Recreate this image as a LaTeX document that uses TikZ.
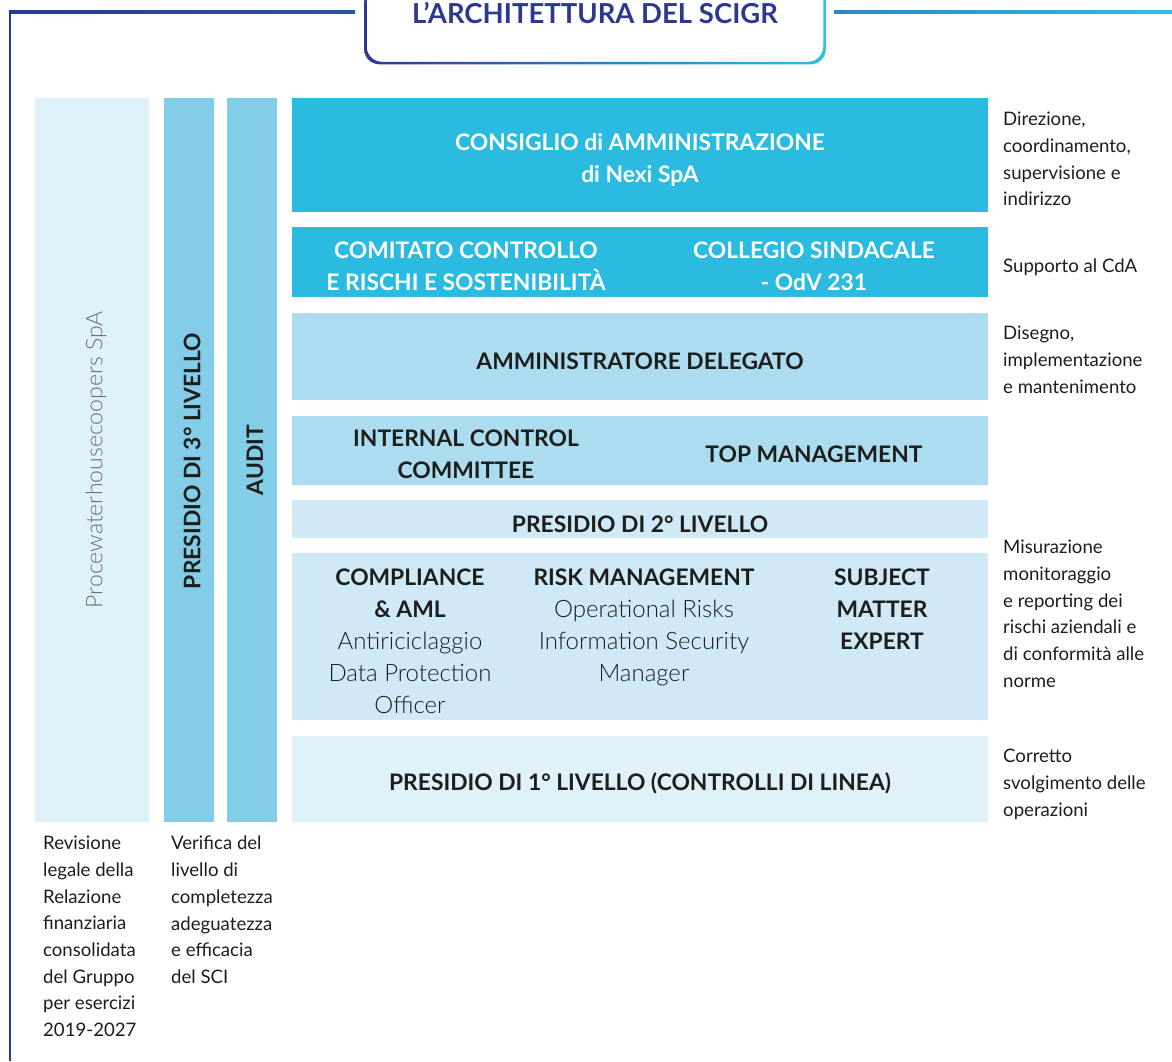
\documentclass[tikz,border=0pt]{standalone}
\usepackage{fontspec}
\setmainfont{Lato}
\newfontfamily\lightfont{Lato Light}
\definecolor{navyline}{HTML}{2B3990}
\definecolor{midline}{HTML}{2F86C6}
\definecolor{cyanline}{HTML}{2BC0E8}
\definecolor{cdacyan}{HTML}{2BBBE0}
\definecolor{adblue}{HTML}{ABDCF0}
\definecolor{secblue}{HTML}{CFEAF6}
\definecolor{paleblue}{HTML}{DFF1F9}
\definecolor{colblue}{HTML}{83CDE8}
\definecolor{inkdark}{HTML}{1D1D1B}
\definecolor{inkgray}{HTML}{6F7072}
\tikzset{
  band/.style={fill=#1, inner sep=0pt, outer sep=0pt, anchor=north west},
  boldtxt/.style={text=inkdark, align=center, inner sep=0pt, font=\fontsize{22.8}{32}\selectfont\bfseries},
  whitetxt/.style={boldtxt, text=white},
  mixtxt/.style={text=inkdark, align=center, inner sep=0pt, anchor=north, font=\fontsize{22.8}{32}\selectfont},
  notetxt/.style={text=inkdark, align=left, inner sep=0pt, anchor=north west, font=\fontsize{18.6}{26.7}\selectfont},
}
\newcommand{\lt}[1]{{\lightfont\fontsize{24}{32}\selectfont #1}}
\begin{document}
\begin{tikzpicture}[x=1pt,y=-1pt]
\useasboundingbox (0,0) rectangle (1172,1061);
% frame and title
\fill[navyline] (8.75,10.75) rectangle (11.25,1061);
\shade[left color=navyline, right color=navyline!80!cyanline] (8.75,10.75) rectangle (355,13.25);
\shade[left color=midline, right color=cyanline] (834,10.75) rectangle (1172,13.25);
\shade[left color=navyline, right color=cyanline, even odd rule, rounded corners=15pt] (364.25,-40) rectangle (825.75,64.25) (366.75,-40) rectangle (823.25,61.75);
\node[text=navyline, font=\fontsize{27.5}{30}\selectfont\bfseries] (title) at (595,13) {L’ARCHITETTURA DEL SCIGR};
% left columns
\node[band=paleblue, minimum width=114pt, minimum height=724pt] (pwc) at (35,98) {};
\node[band=colblue, minimum width=50pt, minimum height=724pt] (terzo) at (164,98) {};
\node[band=colblue, minimum width=50pt, minimum height=724pt] (audit) at (227,98) {};
\node[rotate=90, text=inkgray, inner sep=0pt, font=\lightfont\fontsize{23}{26}\selectfont] (pwctxt) at (96,460) {Procewaterhousecoopers SpA};
\node[boldtxt, rotate=90] (terzotxt) at (192,461) {PRESIDIO DI 3° LIVELLO};
\node[boldtxt, rotate=90] (audittxt) at (255,460) {AUDIT};
% bands
\node[band=cdacyan, minimum width=696pt, minimum height=114pt] (cda) at (292,98) {};
\node[whitetxt] (cdatxt) at (640,160) {CONSIGLIO di AMMINISTRAZIONE\\di Nexi SpA};
\node[band=cdacyan, minimum width=696pt, minimum height=70pt] (comitati) at (292,227) {};
\node[whitetxt] (ccrs) at (466,266.5) {COMITATO CONTROLLO\\E RISCHI E SOSTENIBILITÀ};
\node[whitetxt] (sindacale) at (814,266.5) {COLLEGIO SINDACALE\\- OdV 231};
\node[band=adblue, minimum width=696pt, minimum height=87pt] (ad) at (292,313) {};
\node[boldtxt] (adtxt) at (640,361) {AMMINISTRATORE DELEGATO};
\node[band=adblue, minimum width=696pt, minimum height=69pt] (management) at (292,416) {};
\node[boldtxt] (icc) at (466,454.5) {INTERNAL CONTROL\\COMMITTEE};
\node[boldtxt] (topman) at (814,454) {TOP MANAGEMENT};
\node[band=secblue, minimum width=696pt, minimum height=38pt] (secondo) at (292,500) {};
\node[boldtxt] (secondotxt) at (640,524) {PRESIDIO DI 2° LIVELLO};
\node[band=secblue, minimum width=696pt, minimum height=167pt] (funzioni) at (292,553) {};
\node[mixtxt] (compliance) at (410,569) {{\bfseries COMPLIANCE}\\{\bfseries \& AML}\\\lt{Antiriciclaggio}\\\lt{Data Protection}\\\lt{Officer}};
\node[mixtxt] (risk) at (644,569) {{\bfseries RISK MANAGEMENT}\\\lt{Operational Risks}\\\lt{Information Security}\\\lt{Manager}};
\node[mixtxt] (sme) at (882,569) {{\bfseries SUBJECT}\\{\bfseries MATTER}\\{\bfseries EXPERT}};
\node[band=paleblue, minimum width=696pt, minimum height=86pt] (primo) at (292,736) {};
\node[boldtxt] (primotxt) at (640,783.5) {PRESIDIO DI 1° LIVELLO (CONTROLLI DI LINEA)};
% notes
\node[notetxt] (nota1) at (1003,112) {Direzione,\\coordinamento,\\supervisione e\\indirizzo};
\node[notetxt] (nota2) at (1003,259) {Supporto al CdA};
\node[notetxt] (nota3) at (1003,326) {Disegno,\\implementazione\\e mantenimento};
\node[notetxt] (nota4) at (1003,540) {Misurazione\\monitoraggio\\e reporting dei\\rischi aziendali e\\di conformità alle\\norme};
\node[notetxt] (nota5) at (1003,749) {Corretto\\svolgimento delle\\operazioni};
\node[notetxt] (nota6) at (43,836) {Revisione\\legale della\\Relazione\\finanziaria\\consolidata\\del Gruppo\\per esercizi\\2019-2027};
\node[notetxt] (nota7) at (171,836) {Verifica del\\livello di\\completezza\\adeguatezza\\e efficacia\\del SCI};
\end{tikzpicture}
\end{document}
